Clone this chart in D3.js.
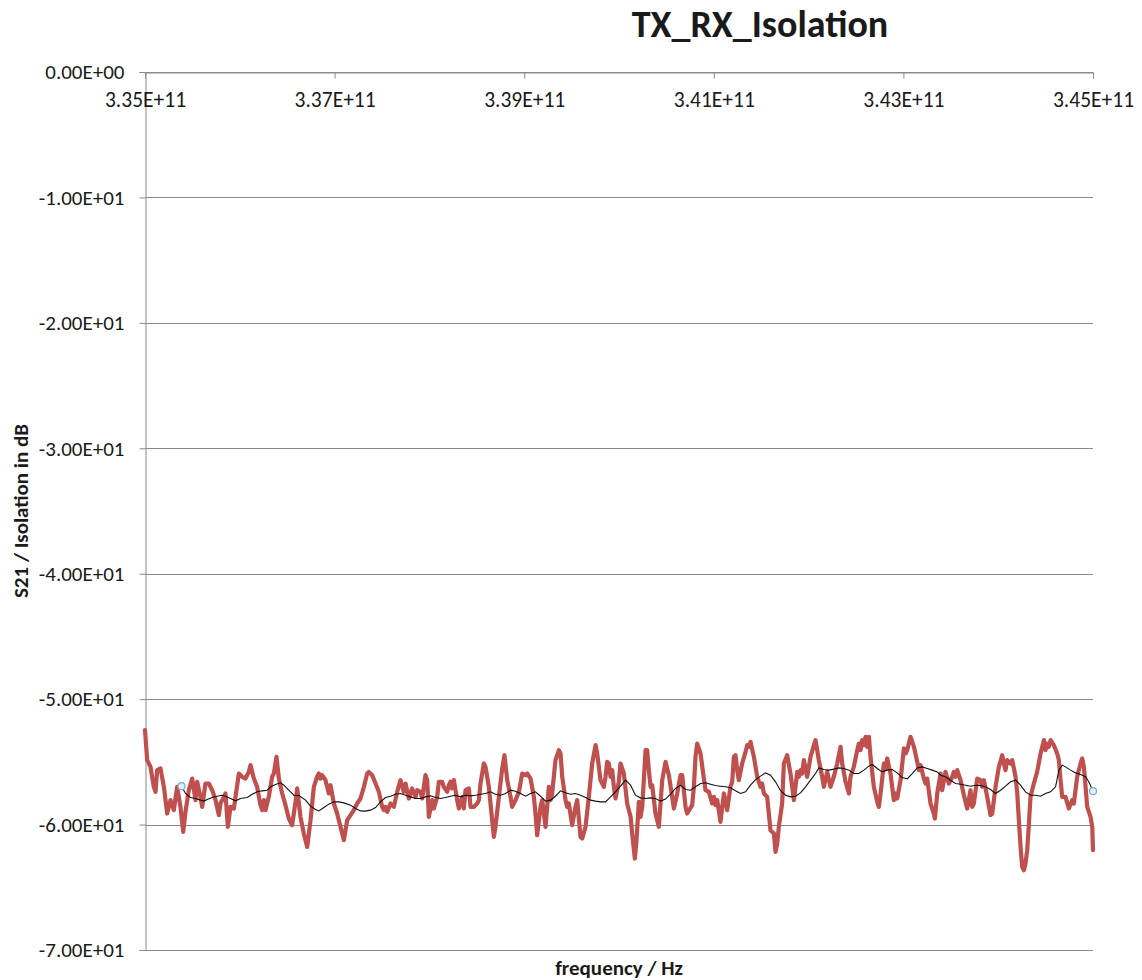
<!DOCTYPE html>
<html>
<head>
<meta charset="utf-8">
<script src="https://cdn.jsdelivr.net/npm/d3@7"></script>
<style>
  body { margin: 0; background: #fff; }
  svg text { font-family: Carlito, Calibri, Lato, "Liberation Sans", sans-serif; fill: #1a1a1a; }
</style>
</head>
<body>
<svg class="chart"></svg>
<script>
// measured S21 trace, [frequency GHz, dB]
const s21Trace = [
  [335.000,-52.47],[335.023,-54.86],[335.058,-55.40],[335.093,-56.99],[335.111,-57.39],[335.128,-55.66],[335.164,-55.53],[335.199,-56.99],
  [335.234,-59.12],[335.269,-58.05],[335.304,-58.85],[335.339,-56.99],[335.374,-58.59],[335.403,-60.58],[335.427,-58.99],[335.462,-57.26],
  [335.498,-56.33],[335.533,-58.05],[335.550,-56.59],[335.585,-57.79],[335.603,-58.59],[335.638,-56.73],[335.673,-56.73],[335.709,-57.26],
  [335.744,-58.05],[335.779,-59.25],[335.796,-58.32],[335.832,-57.79],[335.849,-57.52],[335.874,-60.18],[335.902,-58.59],[335.937,-58.72],
  [335.955,-57.79],[335.990,-55.93],[336.025,-56.19],[336.060,-56.33],[336.095,-55.80],[336.113,-55.26],[336.148,-56.33],[336.183,-56.99],
  [336.218,-58.45],[336.236,-58.85],[336.254,-58.05],[336.271,-58.85],[336.306,-57.79],[336.341,-56.19],[336.359,-55.93],[336.387,-54.60],
  [336.412,-56.33],[336.447,-57.52],[336.482,-58.45],[336.517,-59.52],[336.552,-60.05],[336.588,-58.19],[336.605,-57.12],[336.640,-59.38],
  [336.675,-60.71],[336.711,-61.78],[336.746,-59.65],[336.781,-56.99],[336.816,-56.19],[336.834,-55.93],[336.851,-56.33],[336.869,-56.06],
  [336.904,-56.46],[336.939,-57.52],[336.957,-56.86],[336.992,-58.32],[337.027,-59.12],[337.062,-60.18],[337.098,-61.24],[337.133,-59.65],
  [337.168,-59.25],[337.203,-58.85],[337.238,-58.32],[337.273,-57.92],[337.309,-56.99],[337.344,-55.93],[337.361,-55.80],[337.396,-56.06],
  [337.432,-56.73],[337.467,-57.39],[337.502,-58.59],[337.520,-58.85],[337.537,-58.59],[337.555,-58.99],[337.590,-58.32],[337.625,-58.59],
  [337.660,-57.39],[337.695,-56.46],[337.730,-57.39],[337.748,-56.73],[337.783,-57.92],[337.818,-57.12],[337.854,-57.79],[337.871,-57.26],
  [337.906,-57.39],[337.924,-57.92],[337.959,-56.06],[337.977,-56.46],[337.994,-59.38],[338.029,-58.05],[338.047,-58.72],[338.082,-57.79],
  [338.100,-56.59],[338.135,-56.59],[338.152,-56.99],[338.188,-57.39],[338.205,-56.86],[338.223,-56.59],[338.240,-57.12],[338.258,-56.46],
  [338.293,-58.05],[338.311,-58.72],[338.346,-57.79],[338.363,-58.72],[338.381,-57.26],[338.416,-57.12],[338.434,-58.59],[338.469,-58.59],
  [338.504,-58.32],[338.522,-58.05],[338.539,-56.73],[338.574,-55.13],[338.592,-55.40],[338.627,-56.99],[338.662,-59.65],[338.680,-60.98],
  [338.697,-60.18],[338.733,-57.79],[338.768,-55.53],[338.792,-54.47],[338.821,-56.46],[338.856,-57.79],[338.873,-58.59],[338.908,-58.05],
  [338.944,-57.39],[338.979,-55.93],[339.014,-56.06],[339.032,-55.93],[339.067,-56.33],[339.102,-57.79],[339.119,-59.12],[339.137,-60.85],
  [339.172,-58.59],[339.190,-58.05],[339.225,-60.18],[339.260,-56.99],[339.278,-58.05],[339.295,-57.52],[339.330,-54.86],[339.366,-54.07],
  [339.383,-54.33],[339.401,-56.19],[339.436,-58.05],[339.454,-58.59],[339.471,-58.32],[339.506,-60.05],[339.541,-58.59],[339.559,-58.05],
  [339.594,-60.98],[339.612,-61.11],[339.647,-60.18],[339.682,-57.79],[339.717,-55.13],[339.753,-53.67],[339.770,-54.33],[339.805,-56.46],
  [339.840,-56.99],[339.858,-56.19],[339.875,-55.00],[339.893,-55.13],[339.911,-56.19],[339.928,-55.66],[339.946,-56.99],[339.963,-57.92],
  [339.998,-56.59],[340.016,-55.13],[340.051,-55.93],[340.086,-58.32],[340.122,-59.38],[340.139,-60.71],[340.167,-62.71],[340.185,-61.24],
  [340.209,-58.19],[340.227,-59.38],[340.245,-58.59],[340.262,-56.46],[340.280,-54.07],[340.297,-54.07],[340.315,-55.66],[340.333,-56.99],
  [340.350,-56.86],[340.385,-59.12],[340.420,-60.18],[340.456,-56.46],[340.491,-55.00],[340.526,-56.06],[340.561,-57.79],[340.579,-58.72],
  [340.614,-57.52],[340.649,-56.06],[340.667,-56.06],[340.702,-58.59],[340.719,-59.12],[340.772,-58.45],[340.790,-56.99],[340.807,-54.60],
  [340.825,-53.54],[340.860,-54.33],[340.895,-56.33],[340.913,-57.26],[340.948,-57.39],[340.983,-58.32],[341.001,-57.79],[341.018,-58.45],
  [341.036,-58.05],[341.071,-59.78],[341.106,-57.52],[341.141,-58.85],[341.176,-56.99],[341.194,-56.59],[341.212,-54.60],[341.229,-54.47],
  [341.247,-55.66],[341.264,-56.46],[341.299,-55.13],[341.335,-54.20],[341.352,-53.67],[341.370,-53.80],[341.387,-53.40],[341.423,-54.60],
  [341.458,-56.19],[341.493,-56.99],[341.510,-56.73],[341.528,-57.52],[341.563,-57.79],[341.598,-60.45],[341.634,-60.71],[341.651,-62.17],
  [341.669,-61.51],[341.686,-60.18],[341.721,-58.32],[341.739,-55.13],[341.774,-54.47],[341.809,-55.93],[341.845,-58.05],[341.880,-55.80],
  [341.897,-56.19],[341.915,-55.66],[341.932,-55.93],[341.950,-54.86],[341.985,-56.19],[342.020,-54.60],[342.056,-53.67],[342.073,-53.27],
  [342.108,-54.86],[342.143,-56.19],[342.161,-56.99],[342.196,-55.80],[342.231,-56.99],[342.266,-56.19],[342.302,-55.13],[342.337,-53.80],
  [342.354,-55.13],[342.390,-56.59],[342.425,-57.52],[342.442,-56.19],[342.477,-55.40],[342.513,-54.07],[342.530,-53.54],[342.548,-54.07],
  [342.565,-53.27],[342.583,-53.67],[342.601,-53.00],[342.618,-53.80],[342.636,-53.00],[342.653,-54.60],[342.688,-56.99],[342.724,-58.19],
  [342.741,-58.59],[342.759,-57.52],[342.794,-55.13],[342.811,-55.53],[342.829,-54.73],[342.864,-55.93],[342.899,-58.05],[342.917,-57.52],
  [342.935,-57.92],[342.970,-56.46],[343.005,-53.93],[343.023,-54.33],[343.040,-54.07],[343.075,-53.00],[343.111,-53.80],[343.146,-55.00],
  [343.163,-55.66],[343.181,-55.26],[343.216,-56.33],[343.234,-56.73],[343.251,-56.33],[343.286,-58.32],[343.321,-59.12],[343.332,-59.52],
  [343.357,-57.52],[343.392,-55.93],[343.409,-57.26],[343.444,-55.80],[343.480,-56.73],[343.515,-56.19],[343.532,-55.80],[343.550,-56.19],
  [343.568,-55.66],[343.603,-56.46],[343.638,-57.66],[343.673,-58.72],[343.708,-57.26],[343.726,-58.59],[343.743,-58.32],[343.779,-56.33],
  [343.814,-56.46],[343.831,-56.99],[343.849,-56.46],[343.884,-57.79],[343.919,-59.25],[343.937,-59.12],[343.972,-56.99],[344.007,-55.40],
  [344.042,-54.47],[344.060,-55.13],[344.077,-55.66],[344.095,-54.86],[344.130,-55.13],[344.148,-54.86],[344.183,-56.19],[344.201,-57.52],
  [344.218,-59.65],[344.236,-61.78],[344.253,-63.37],[344.271,-63.64],[344.288,-63.11],[344.306,-62.04],[344.324,-59.92],[344.341,-57.79],
  [344.376,-56.73],[344.411,-55.80],[344.447,-54.33],[344.482,-53.27],[344.499,-54.07],[344.517,-53.54],[344.534,-53.80],[344.552,-53.27],
  [344.587,-53.67],[344.622,-54.33],[344.640,-54.86],[344.658,-56.46],[344.675,-57.79],[344.710,-57.79],[344.745,-58.72],[344.781,-58.05],
  [344.798,-58.32],[344.833,-56.19],[344.869,-55.13],[344.886,-54.73],[344.904,-55.40],[344.939,-58.59],[344.974,-59.38],[344.992,-60.18],
  [345.000,-62.04]
];

// moving average trace, [frequency GHz, dB]
const avgTrace = [
  [335.385,-56.94],[335.427,-57.52],[335.480,-57.84],[335.533,-57.92],[335.585,-58.05],[335.621,-58.13],[335.656,-58.00],[335.709,-57.84],
  [335.761,-57.74],[335.814,-57.66],[335.849,-57.74],[335.902,-57.92],[335.955,-58.11],[336.007,-57.92],[336.078,-57.84],[336.130,-57.58],
  [336.183,-57.39],[336.236,-57.31],[336.289,-57.26],[336.324,-56.99],[336.377,-56.80],[336.429,-56.67],[336.465,-56.86],[336.517,-57.26],
  [336.570,-57.66],[336.623,-57.68],[336.693,-58.05],[336.746,-58.53],[336.799,-58.80],[336.834,-58.91],[336.887,-58.64],[336.939,-58.37],
  [336.992,-58.19],[337.045,-58.19],[337.098,-58.27],[337.168,-58.45],[337.221,-58.72],[337.273,-58.91],[337.326,-58.93],[337.379,-58.85],
  [337.432,-58.64],[337.484,-58.19],[337.537,-57.84],[337.590,-57.74],[337.643,-57.58],[337.695,-57.52],[337.748,-57.66],[337.801,-57.79],
  [337.854,-57.92],[337.906,-57.92],[337.959,-57.79],[338.012,-57.71],[338.065,-57.84],[338.117,-57.92],[338.170,-57.84],[338.223,-57.74],
  [338.275,-57.66],[338.328,-57.79],[338.381,-57.66],[338.434,-57.71],[338.486,-57.66],[338.539,-57.58],[338.592,-57.52],[338.645,-57.39],
  [338.697,-57.58],[338.750,-57.66],[338.803,-57.52],[338.856,-57.26],[338.908,-57.34],[338.961,-57.52],[339.014,-57.74],[339.067,-57.52],
  [339.119,-57.39],[339.172,-57.74],[339.225,-58.13],[339.278,-58.05],[339.330,-57.74],[339.383,-57.31],[339.436,-57.47],[339.488,-57.58],
  [339.541,-57.52],[339.594,-57.66],[339.647,-57.84],[339.700,-58.05],[339.753,-58.13],[339.805,-58.19],[339.858,-58.19],[339.911,-57.79],
  [339.963,-57.39],[340.016,-56.93],[340.069,-56.46],[340.122,-56.86],[340.174,-57.66],[340.227,-57.87],[340.280,-57.92],[340.333,-57.87],
  [340.385,-57.92],[340.438,-58.13],[340.491,-57.97],[340.543,-57.58],[340.596,-57.12],[340.649,-56.86],[340.702,-57.20],[340.754,-57.26],
  [340.807,-56.99],[340.860,-56.73],[340.913,-56.67],[340.965,-56.78],[341.018,-56.89],[341.071,-56.94],[341.124,-56.99],[341.176,-57.07],
  [341.229,-57.31],[341.282,-57.52],[341.335,-57.39],[341.387,-56.86],[341.440,-56.41],[341.493,-56.14],[341.546,-55.88],[341.598,-56.06],
  [341.651,-56.59],[341.704,-57.30],[341.757,-57.66],[341.809,-57.79],[341.862,-57.74],[341.915,-57.47],[341.968,-56.99],[342.020,-56.46],
  [342.073,-55.93],[342.108,-55.48],[342.161,-55.61],[342.214,-55.66],[342.266,-55.58],[342.319,-55.48],[342.372,-55.53],[342.425,-55.66],
  [342.477,-55.93],[342.530,-55.93],[342.583,-55.66],[342.636,-55.34],[342.671,-55.21],[342.724,-55.53],[342.776,-55.80],[342.829,-55.66],
  [342.882,-55.61],[342.935,-55.88],[342.987,-56.25],[343.040,-56.35],[343.093,-55.93],[343.146,-55.48],[343.198,-55.40],[343.251,-55.53],
  [343.304,-55.66],[343.357,-55.80],[343.392,-56.06],[343.444,-56.19],[343.497,-56.46],[343.550,-56.73],[343.603,-56.78],[343.655,-56.86],
  [343.708,-56.94],[343.761,-56.86],[343.814,-56.89],[343.866,-56.99],[343.919,-57.20],[343.972,-57.52],[344.025,-57.26],[344.077,-56.94],
  [344.130,-56.59],[344.183,-56.46],[344.236,-56.86],[344.288,-57.39],[344.341,-57.66],[344.394,-57.66],[344.447,-57.74],[344.499,-57.52],
  [344.552,-57.39],[344.605,-56.99],[344.640,-55.66],[344.675,-55.26],[344.710,-55.40],[344.763,-55.66],[344.816,-55.88],[344.869,-56.01],
  [344.921,-56.19],[344.956,-56.59],[345.000,-57.34]
];

const xTicks = [3.35e11, 3.37e11, 3.39e11, 3.41e11, 3.43e11, 3.45e11];
const yTicks = [0, -10, -20, -30, -40, -50, -60, -70];

let margin = { top: 72, right: 49, bottom: 30, left: 145 };
let width = 1142 - margin.left - margin.right;
let height = 980 - margin.top - margin.bottom;

// Excel style scientific labels, e.g. 3.35E+11, -1.00E+01
function sci(v) {
  let parts = v.toExponential(2).split('e');
  let exp = +parts[1];
  let e = Math.abs(exp);
  return parts[0] + 'E' + (exp < 0 ? '-' : '+') + (e < 10 ? '0' + e : e);
}

let x = d3.scaleLinear()
    .domain([3.35e11, 3.45e11])
    .range([0, width]);

let y = d3.scaleLinear()
    .domain([-70, 0])
    .range([height, 0]);

let svg = d3.select('.chart')
    .attr('width', 1142)
    .attr('height', 980);

let chart = svg.append('g')
    .attr('transform', `translate(${margin.left},${margin.top})`);

// horizontal gridlines
chart.append('g')
    .selectAll('line')
    .data(yTicks)
  .enter().append('line')
    .attr('x1', 0)
    .attr('x2', width)
    .attr('y1', d => Math.round(y(d)) + 0.5)
    .attr('y2', d => Math.round(y(d)) + 0.5)
    .attr('stroke', '#8a8a8a')
    .attr('stroke-width', 1);

// y axis on the left
let yAxis = d3.axisLeft(y)
    .tickValues(yTicks)
    .tickFormat(sci)
    .tickSize(6)
    .tickPadding(15);

let gy = chart.append('g')
    .attr('transform', 'translate(0.5,0)')
    .call(yAxis);
gy.select('.domain').attr('stroke', '#8a8a8a');
gy.selectAll('.tick line').attr('stroke', '#8a8a8a');
gy.selectAll('.tick text').style('font-size', '21px');

// x axis sits at 0 dB (top), ticks hanging down
let xAxis = d3.axisBottom(x)
    .tickValues(xTicks)
    .tickFormat(sci)
    .tickSize(6)
    .tickPadding(13);

let gx = chart.append('g')
    .attr('transform', `translate(0,${Math.round(y(0)) + 0.5})`)
    .call(xAxis);
gx.select('.domain').attr('stroke', '#8a8a8a');
gx.selectAll('.tick line').attr('stroke', '#8a8a8a');
gx.selectAll('.tick text').style('font-size', '21.5px');

let line = d3.line()
    .x(d => x(d[0] * 1e9))
    .y(d => y(d[1]));

chart.append('path')
    .datum(s21Trace)
    .attr('fill', 'none')
    .attr('stroke', '#c0504d')
    .attr('stroke-width', 4.2)
    .attr('stroke-linejoin', 'round')
    .attr('stroke-linecap', 'round')
    .attr('d', line);

chart.append('path')
    .datum(avgTrace)
    .attr('fill', 'none')
    .attr('stroke', '#111')
    .attr('stroke-width', 1.1)
    .attr('d', line);

// markers on first and last averaged points
chart.selectAll('.marker')
    .data([avgTrace[0], avgTrace[avgTrace.length - 1]])
  .enter().append('circle')
    .attr('class', 'marker')
    .attr('cx', d => x(d[0] * 1e9))
    .attr('cy', d => y(d[1]))
    .attr('r', 3.5)
    .attr('fill', '#e4eef8')
    .attr('stroke', '#7fa8d2')
    .attr('stroke-width', 1.2);

// titles
svg.append('text')
    .attr('x', 760)
    .attr('y', 37)
    .attr('text-anchor', 'middle')
    .style('font-size', '38px')
    .style('font-weight', 'bold')
    .text('TX_RX_Isolation');

svg.append('text')
    .attr('x', 619)
    .attr('y', 975)
    .attr('text-anchor', 'middle')
    .style('font-size', '21px')
    .style('font-weight', 'bold')
    .text('frequency / Hz');

svg.append('text')
    .attr('transform', 'translate(28,511) rotate(-90)')
    .attr('text-anchor', 'middle')
    .style('font-size', '21px')
    .style('font-weight', 'bold')
    .text('S21 / Isolation in dB');
</script>
</body>
</html>
